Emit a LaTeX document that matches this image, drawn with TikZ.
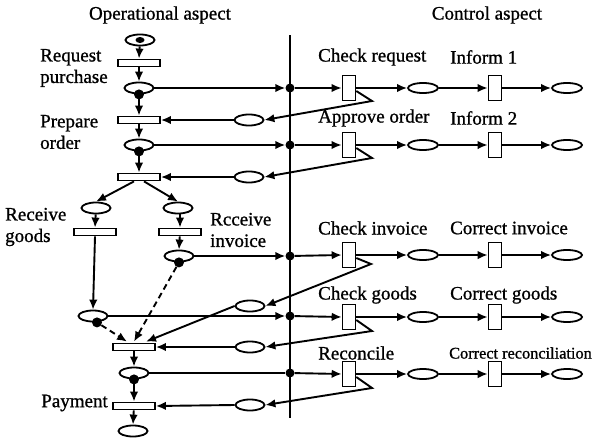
\documentclass[tikz,border=0pt]{standalone}
\usepackage{fontspec}
\setmainfont{Liberation Serif}[UprightFeatures={FakeBold=1}]
\usetikzlibrary{arrows.meta,calc,shapes.geometric}
\tikzset{
  place/.style={draw,ellipse,line width=1.8pt,minimum width=29pt,minimum height=11pt,inner sep=0pt},
  rplace/.style={place,minimum width=30pt,minimum height=10pt},
  htrans/.style={draw,rectangle,line width=1.8pt,minimum width=42pt,minimum height=7pt,inner sep=0pt},
  vtrans/.style={draw,rectangle,line width=1.6pt,minimum width=13pt,minimum height=25pt,inner sep=0pt},
  lbl/.style={font=\fontsize{19}{21.5}\selectfont,align=left,inner sep=0pt},
  arr/.style={line width=1.9pt,-{Latex[length=10pt,width=8.5pt]}},
  plain/.style={line width=1.9pt},
  dasharr/.style={arr,dash pattern=on 6pt off 4pt},
  tok/.style={circle,fill,inner sep=0pt,minimum size=10pt},
  jdot/.style={circle,fill,inner sep=0pt,minimum size=9pt},
}
\begin{document}
\begin{tikzpicture}[x=1pt,y=-1pt]
\useasboundingbox (0,0) rectangle (597,439);
% titles
\node[lbl] (h1) at (160,15) {Operational aspect};
\node[lbl] (h2) at (487,15) {Control aspect};
% vertical separator
\coordinate (vt) at (290,35);
\coordinate (vb) at (290,418);
\draw[line width=2.2pt] (vt) -- (vb);
% operational aspect
\node[place] (s0) at (140,40) {};
\node[fill,ellipse,inner sep=0pt,minimum width=9pt,minimum height=6pt] (s0t) at (s0) {};
\node[htrans] (t1) at (139,63) {};
\node[place] (p1) at (139,88) {};
\node[htrans] (t2) at (139,120) {};
\node[place] (p2) at (139,145) {};
\node[htrans] (t3) at (139,177) {};
\node[place] (pl) at (96,208) {};
\node[place] (pr) at (178,208) {};
\node[htrans] (tg) at (95,232) {};
\node[htrans] (ti) at (180,232) {};
\node[place] (pi) at (179,256) {};
\node[place] (pg) at (93,316) {};
\node[htrans] (tm) at (134,347) {};
\node[place] (p5) at (134,373) {};
\node[htrans] (tp) at (134,406) {};
\node[place] (pend) at (133,431) {};
% tokens
\node[tok] (k1t) at (p1.south) {};
\node[tok] (k2t) at (p2.south) {};
\node[tok] (kit) at (pi.south) {};
\node[tok] (kgt) at ($(pg.south)+(4,0)$) {};
\node[tok] (k5t) at (p5.south) {};
% labels left
\node[lbl,anchor=west] (lrp) at (40,68) {Request\\purchase};
\node[lbl,anchor=west] (lpo) at (40,132) {Prepare\\order};
\node[lbl,anchor=west] (lrg) at (5,227) {Receive\\goods};
\node[lbl,anchor=west] (lri) at (210,230) {Rcceive\\invoice};
\node[lbl,anchor=east] (lpay) at (108,403) {Payment};
% incoming control places
\node[place] (e1) at (249,120) {};
\node[place] (e2) at (249,177) {};
\node[place] (e3) at (250,306) {};
\node[place] (e4) at (250,347) {};
\node[place] (e5) at (250,405) {};
% junction dots
\node[jdot] (d1) at (290,88) {};
\node[jdot] (d2) at (290,145) {};
\node[jdot] (d3) at (290,256) {};
\node[jdot] (d4) at (290,316) {};
\node[jdot] (d5) at (290,373) {};
% control aspect
\foreach \i/\y in {1/88,2/145,3/255,4/317,5/374}{
  \node[vtrans] (c\i) at (349,\y) {};
  \node[rplace] (q\i) at (423,\y) {};
  \node[vtrans] (f\i) at (495,\y) {};
  \node[rplace] (r\i) at (567,\y) {};
  \draw[arr] (d\i) -- (c\i.west);
  \draw[arr] (c\i.east) -- (q\i.west);
  \draw[arr] (q\i.east) -- (f\i.west);
  \draw[arr] (f\i.east) -- (r\i.west);
}
\node[lbl,anchor=west] (lc1) at (318,57) {Check request};
\node[lbl,anchor=west] (lf1) at (450,57) {Inform 1};
\node[lbl,anchor=west] (lc2) at (318,118) {Approve order};
\node[lbl,anchor=west] (lf2) at (450,118) {Inform 2};
\node[lbl,anchor=west] (lc3) at (318,228) {Check invoice};
\node[lbl,anchor=west] (lf3) at (450,228) {Correct invoice};
\node[lbl,anchor=west] (lc4) at (318,295) {Check goods};
\node[lbl,anchor=west] (lf4) at (450,295) {Correct goods};
\node[lbl,anchor=west] (lc5) at (318,353) {Reconcile};
\node[lbl,anchor=west,font=\fontsize{16.3}{19}\selectfont] (lf5) at (449,353) {Correct reconciliation};
% zigzag returns
\coordinate (z1) at (372,101);
\coordinate (z2) at (372,158);
\coordinate (z3) at (371,264);
\coordinate (z4) at (372,331);
\coordinate (z5) at (372,388);
\draw[arr] ($(c1.east)+(0,3)$) -- (z1) -- (e1.east);
\draw[arr] ($(c2.east)+(0,3)$) -- (z2) -- (e2.east);
\draw[arr] ($(c3.east)+(0,3)$) -- (z3) -- (e3.east);
\draw[arr] ($(c4.east)+(0,3)$) -- (z4) -- (e4.east);
\draw[arr] ($(c5.east)+(0,3)$) -- (z5) -- (e5.east);
% main flow
\draw[arr] (s0) -- (t1.north);
\draw[arr] (t1) -- (p1.north);
\draw[arr] (p1.south) -- (t2.north);
\draw[arr] (t2) -- (p2.north);
\draw[arr] (p2.south) -- (t3.north);
\draw[arr] ($(t3.south)+(-5,0)$) -- (pl.north);
\draw[arr] ($(t3.south)+(5,0)$) -- (pr.north);
\draw[arr] (pl) -- (tg.north);
\draw[arr] (pr.south -| ti.north) -- (ti.north);
\draw[arr] (ti) -- (pi.north);
\draw[arr] (tg.south) -- (pg.north);
\draw[dasharr] (kit) -- ($(tm.north)+(0,-1)$);
\draw[dasharr] (kgt) -- ($(tm.north)+(-7,-1)$);
\draw[arr] (e3.west) -- ($(tm.north)+(12,-1)$);
\draw[arr] (e4.west) -- (tm.east);
\draw[arr] (tm) -- (p5.north);
\draw[arr] (p5.south) -- (tp.north);
\draw[arr] (tp) -- (pend.north);
\draw[arr] (e1.west) -- (t2.east);
\draw[arr] (e2.west) -- (t3.east);
\draw[arr] (e5.west) -- (tp.east);
% to control junctions
\draw[arr] (p1.east) -- (d1.west);
\draw[arr] (p2.east) -- (d2.west);
\draw[arr] (pi.east) -- (d3.west);
\draw[arr] (pg.east) -- (d4.west);
\draw[plain] (p5.east) -- (d5.west);
\end{tikzpicture}
\end{document}
